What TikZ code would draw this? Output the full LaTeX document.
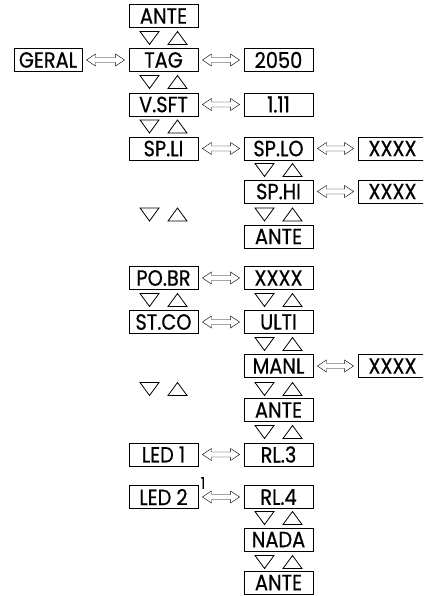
\documentclass[tikz,border=0pt]{standalone}
\usepackage{fontspec}
\setmainfont{Poppins}[FakeStretch=0.88, FakeBold=0.6]
\usetikzlibrary{calc}
\tikzset{
  caixa/.style={shape=rectangle, draw, line width=0.9pt, inner sep=0, minimum width=69pt, minimum height=23pt, font=\fontsize{22}{22}\selectfont},
  troca/.style={draw, line width=0.7pt, to path={let \p1=(\tikztostart.east), \p2=(\tikztotarget.west) in
    (\x1+4pt,\y1) -- (\x1+13pt,\y1+6pt) -- (\x1+13pt,\y1+2.5pt) -- (\x2-13pt,\y1+2.5pt) -- (\x2-13pt,\y1+6pt) -- (\x2-4pt,\y1)
    -- (\x2-13pt,\y1-6pt) -- (\x2-13pt,\y1-2.5pt) -- (\x1+13pt,\y1-2.5pt) -- (\x1+13pt,\y1-6pt) -- cycle}},
  setas/.pic={\draw[line width=0.8pt] (-23.5,-6.5) -- (-4.5,-6.5) -- (-14,6.5) -- cycle (4.5,6.5) -- (23.5,6.5) -- (14,-6.5) -- cycle;}
}
\begin{document}
\begin{tikzpicture}[x=1pt, y=-1pt]
        \clip (0,0) rectangle (423,596);
        % Boxes, arrows and keys:
        \node[caixa] (Ante1) at (163.5,16) {ANTE};
        \node[caixa, minimum width=68pt] (Geral) at (48,60) {GERAL};
        \node[caixa] (Tag) at (163.5,60) {TAG};
        \node[caixa] (Val2050) at (278.5,60) {2050};
        \node[caixa] (Vsft) at (163.5,104.5) {V.SFT};
        \node[caixa] (Val111) at (278.5,104.5) {1.11};
        \node[caixa] (Spli) at (163.5,148.5) {SP.LI};
        \node[caixa] (Splo) at (278.5,148.5) {SP.LO};
        \node[caixa] (Xlo) at (392.5,148.5) {XXXX};
        \node[caixa] (Sphi) at (278.5,191.5) {SP.HI};
        \node[caixa] (Xhi) at (392.5,191.5) {XXXX};
        \node[caixa] (Ante2) at (278.5,236.5) {ANTE};
        \node[caixa] (Pobr) at (163.5,278) {PO.BR};
        \node[caixa] (Xbr) at (278.5,278) {XXXX};
        \node[caixa] (Stco) at (163.5,322) {ST.CO};
        \node[caixa] (Ulti) at (278.5,322) {ULTI};
        \node[caixa] (Manl) at (278.5,366) {MANL};
        \node[caixa] (Xmanl) at (392.5,366) {XXXX};
        \node[caixa] (Ante3) at (278.5,410) {ANTE};
        \node[caixa] (Led1) at (163.5,454.5) {LED 1};
        \node[caixa] (Rl3) at (278.5,454.5) {RL.3};
        \node[caixa] (Led2) at (163.5,497) {LED 2};
        \node[caixa] (Rl4) at (278.5,497) {RL.4};
        \node[caixa] (Nada) at (278.5,539.5) {NADA};
        \node[caixa] (Ante4) at (278.5,582.5) {ANTE};
        \node[font=\fontsize{16}{16}\selectfont, inner sep=0] (Nota) at (203,483) {1};
        \draw (Geral) to[troca] (Tag);
        \draw (Tag) to[troca] (Val2050);
        \draw (Vsft) to[troca] (Val111);
        \draw (Spli) to[troca] (Splo);
        \draw (Splo) to[troca] (Xlo);
        \draw (Sphi) to[troca] (Xhi);
        \draw (Pobr) to[troca] (Xbr);
        \draw (Stco) to[troca] (Ulti);
        \draw (Manl) to[troca] (Xmanl);
        \draw (Led1) to[troca] (Rl3);
        \draw (Led2) to[troca] (Rl4);
        \foreach \y in {38, 82, 126.5, 214.5, 300, 389}
            \pic at (163.5,\y) {setas};
        \foreach \y in {170, 214.5, 300, 344, 389, 432, 518, 562}
            \pic at (278.5,\y) {setas};
\end{tikzpicture}
\end{document}
